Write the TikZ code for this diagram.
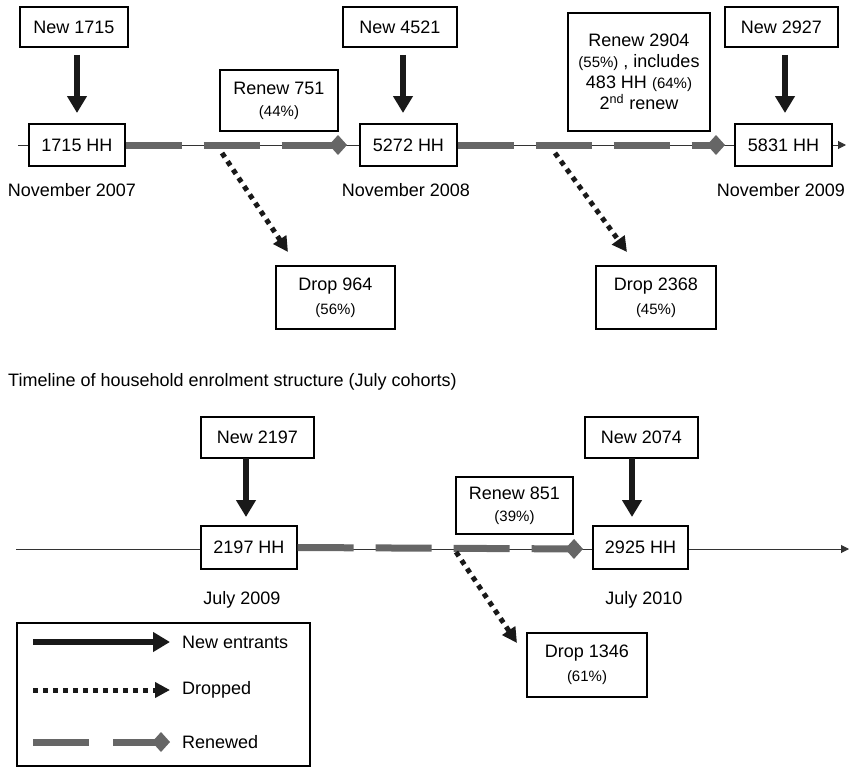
\documentclass[tikz,border=0pt]{standalone}
\usepackage{fontspec}
\setmainfont{Liberation Sans}
\usetikzlibrary{arrows.meta}
\definecolor{rgray}{HTML}{666666}
\newcommand{\pc}[1]{{\fontsize{15}{17}\selectfont #1}}
\begin{document}
\begin{tikzpicture}[x=1pt,y=-1pt,
  box/.style={draw=black, line width=1.1pt, fill=white, inner sep=0pt, align=center, font=\fontsize{18}{21}\selectfont},
  lbl/.style={inner sep=0pt, font=\fontsize{18}{21}\selectfont},
  tl/.style={line width=1pt, draw=black!80},
  tlarr/.style={tl, -{Triangle[length=8pt,width=8pt]}},
  newarr/.style={line width=5.5pt, draw=black!90, -{Triangle[length=17pt,width=19pt]}},
  droparr/.style={line width=5pt, draw=black!90, dash pattern=on 5pt off 5pt, -{Triangle[length=15pt,width=15pt]}},
  renew/.style={line width=7pt, draw=rgray, dash pattern=on 56pt off 22pt},
  renewend/.style={renew, -{Diamond[length=18pt,width=20pt]}}]
\useasboundingbox (0,0) rectangle (851,768);

% ---------- top timeline ----------
\coordinate (ts) at (18,145);
\coordinate (te) at (846,145);
\draw[tlarr] (ts) -- (te);

\node[box, minimum width=108, minimum height=40] (n1) at (74,27) {New 1715};
\node[box, minimum width=96, minimum height=42] (hh1) at (77,145) {1715 HH};
\node[box, minimum width=118, minimum height=61] (r1) at (279,100.5) {Renew 751\\[1pt]\pc{(44\%)}};
\node[box, minimum width=114, minimum height=40] (n2) at (400,27) {New 4521};
\node[box, minimum width=97, minimum height=42] (hh2) at (408.5,145) {5272 HH};
\node[box, minimum width=142, minimum height=118] (r2) at (639,72) {Renew 2904\\\pc{(55\%)} , includes\\483 HH \pc{(64\%)}\\2\textsuperscript{nd} renew};
\node[box, minimum width=113, minimum height=40] (n3) at (781.5,27) {New 2927};
\node[box, minimum width=97, minimum height=42] (hh3) at (783.5,145) {5831 HH};
\node[box, minimum width=119, minimum height=63] (d1) at (335.5,297.5) {Drop 964\\[3pt]\pc{(56\%)}};
\node[box, minimum width=120, minimum height=63] (d2) at (656,297.5) {Drop 2368\\[3pt]\pc{(45\%)}};

\node[lbl] (t1) at (72,190) {November 2007};
\node[lbl] (t2) at (406,190) {November 2008};
\node[lbl] (t3) at (781,190) {November 2009};

\coordinate (e1) at (347,145);
\coordinate (e2) at (725,145);
\draw[renewend] (hh1.east) -- (e1);
\draw[renewend] (hh2.east) -- (e2);

\draw[newarr, shorten <=8pt, shorten >=11pt] (77,47) -- (77,124);
\draw[newarr, shorten <=8pt, shorten >=11pt] (403,47) -- (403,124);
\draw[newarr, shorten <=8pt, shorten >=11pt] (785,47) -- (785,124);

\coordinate (s1) at (222,153);
\coordinate (f1) at (288,252);
\coordinate (s2) at (555,153);
\coordinate (f2) at (627,252);
\draw[droparr] (s1) -- (f1);
\draw[droparr] (s2) -- (f2);

% ---------- caption ----------
\node[lbl, anchor=west] (cap) at (8,382) {Timeline of household enrolment structure (July cohorts)};

% ---------- bottom timeline ----------
\coordinate (bs) at (16,549);
\coordinate (be) at (849,549);
\draw[tlarr] (bs) -- (be);

\node[box, minimum width=113, minimum height=41] (n4) at (257.5,437.5) {New 2197};
\node[box, minimum width=96, minimum height=43] (hh4) at (249,547.5) {2197 HH};
\node[box, minimum width=117, minimum height=57] (r3) at (514.5,505.5) {Renew 851\\[1pt]\pc{(39\%)}};
\node[box, minimum width=113, minimum height=41] (n5) at (641.5,437.5) {New 2074};
\node[box, minimum width=95, minimum height=43] (hh5) at (640.5,547.5) {2925 HH};
\node[box, minimum width=120, minimum height=64] (d3) at (587,665) {Drop 1346\\[3pt]\pc{(61\%)}};

\node[lbl] (t4) at (242,600) {July 2009};
\node[lbl] (t5) at (644,600) {July 2010};

\coordinate (e3) at (583,549);
\draw[renewend] (hh4.east) -- (e3);

\draw[newarr, shorten >=9pt] (246,458) -- (246,526);
\draw[newarr, shorten >=9pt] (632,458) -- (632,526);

\coordinate (s3) at (456,552);
\coordinate (f3) at (517,643);
\draw[droparr] (s3) -- (f3);

% ---------- legend ----------
\node[draw=black, line width=1.1pt, inner sep=0pt, minimum width=293, minimum height=143] (leg) at (163.5,694.5) {};
\coordinate (la1) at (33,642);
\coordinate (lb1) at (170,642);
\coordinate (la2) at (33,690);
\coordinate (lb2) at (170,690);
\coordinate (la3) at (33,742);
\coordinate (lb3) at (90,742);
\coordinate (la4) at (113,742);
\coordinate (lb4) at (170,742);
\draw[newarr] (la1) -- (lb1);
\draw[droparr] (la2) -- (lb2);
\draw[renew] (la3) -- (lb3);
\draw[renewend] (la4) -- (lb4);
\node[lbl, anchor=west] (lt1) at (182,642) {New entrants};
\node[lbl, anchor=west] (lt2) at (182,690) {Dropped};
\node[lbl, anchor=west] (lt3) at (182,742) {Renewed};
\end{tikzpicture}
\end{document}
